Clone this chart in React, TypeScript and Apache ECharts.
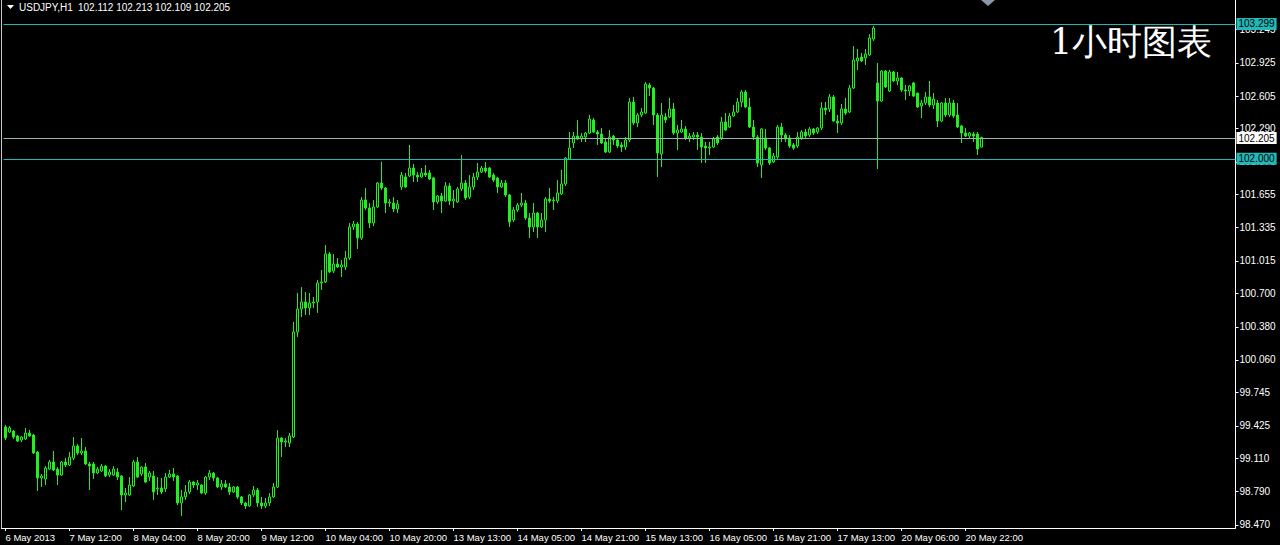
import React, { useEffect, useRef } from "react";
import * as echarts from "echarts";

// ---- data (USDJPY, H1) ----
const OPEN = [
  99.413, 99.365, 99.374, 99.327, 99.288, 99.298, 99.355, 99.336, 99.172, 98.922,
  98.912, 99.008, 99.076, 99.008, 98.950, 99.076, 99.047, 99.114, 99.230, 99.163,
  99.182, 99.057, 99.057, 98.970, 98.989, 99.037, 98.950, 98.950, 98.979, 98.941,
  98.758, 98.758, 98.845, 99.076, 98.960, 99.027, 98.931, 98.941, 98.816, 98.825,
  98.816, 98.931, 98.960, 98.941, 98.681, 98.739, 98.787, 98.883, 98.854, 98.854,
  98.777, 98.931, 98.970, 98.922, 98.835, 98.864, 98.835, 98.787, 98.835, 98.739,
  98.681, 98.652, 98.758, 98.806, 98.681, 98.652, 98.681, 98.739, 98.835, 99.307,
  99.269, 99.259, 99.317, 100.330, 100.551, 100.619, 100.561, 100.609, 100.619, 100.802,
  100.812, 101.082, 100.918, 100.985, 100.956, 100.956, 101.043, 101.342, 101.371, 101.236,
  101.602, 101.525, 101.381, 101.535, 101.766, 101.718, 101.573, 101.573, 101.516, 101.728,
  101.824, 101.834, 101.911, 101.843, 101.824, 101.863, 101.863, 101.815, 101.583, 101.641,
  101.593, 101.737, 101.593, 101.583, 101.709, 101.766, 101.631, 101.728, 101.824, 101.872,
  101.911, 101.911, 101.843, 101.815, 101.728, 101.766, 101.651, 101.410, 101.506, 101.554,
  101.573, 101.429, 101.342, 101.477, 101.342, 101.410, 101.612, 101.593, 101.593, 101.660,
  101.757, 101.998, 102.152, 102.219, 102.191, 102.210, 102.248, 102.374, 102.258, 102.239,
  102.162, 102.065, 102.219, 102.181, 102.133, 102.113, 102.181, 102.547, 102.345, 102.422,
  102.441, 102.711, 102.682, 102.422, 102.046, 102.403, 102.403, 102.480, 102.248, 102.258,
  102.287, 102.200, 102.210, 102.229, 102.210, 102.123, 102.104, 102.113, 102.210, 102.200,
  102.355, 102.306, 102.412, 102.451, 102.547, 102.644, 102.499, 102.306, 102.210, 101.940,
  102.200, 102.104, 101.969, 102.017, 102.306, 102.229, 102.200, 102.133, 102.123, 102.200,
  102.258, 102.229, 102.287, 102.258, 102.297, 102.489, 102.480, 102.596, 102.364, 102.345,
  102.480, 102.451, 102.682, 102.943, 102.981, 102.972, 103.001, 103.155, 102.731, 102.557,
  102.846, 102.653, 102.837, 102.750, 102.779, 102.663, 102.653, 102.731, 102.634, 102.509,
  102.538, 102.596, 102.518, 102.538, 102.364, 102.538, 102.422, 102.538, 102.422, 102.316,
  102.248, 102.219, 102.239, 102.239, 102.112,
];
const HIGH = [
  99.433, 99.423, 99.384, 99.336, 99.327, 99.404, 99.384, 99.346, 99.182, 98.960,
  99.037, 99.095, 99.182, 99.027, 99.085, 99.114, 99.172, 99.317, 99.250, 99.307,
  99.221, 99.076, 99.076, 99.027, 99.057, 99.047, 99.008, 99.037, 99.018, 98.950,
  98.825, 98.931, 99.095, 99.124, 99.037, 99.066, 98.989, 98.989, 98.931, 98.922,
  98.970, 98.999, 99.018, 98.950, 98.806, 98.854, 98.902, 98.893, 98.902, 98.864,
  98.941, 98.999, 98.979, 98.931, 98.902, 98.902, 98.873, 98.845, 98.845, 98.748,
  98.690, 98.767, 98.845, 98.825, 98.739, 98.729, 98.777, 98.873, 99.384, 99.317,
  99.307, 99.355, 100.426, 100.706, 100.763, 100.715, 100.706, 100.667, 100.831, 100.927,
  101.168, 101.101, 101.082, 101.043, 101.024, 101.111, 101.381, 101.400, 101.390, 101.631,
  101.718, 101.573, 101.602, 101.776, 101.969, 101.728, 101.612, 101.631, 101.602, 101.872,
  101.863, 102.133, 101.950, 101.872, 101.911, 101.940, 101.892, 101.824, 101.651, 101.670,
  101.776, 101.766, 101.699, 101.728, 102.036, 101.795, 101.843, 101.863, 101.959, 101.930,
  101.969, 101.921, 101.863, 101.824, 101.795, 101.795, 101.660, 101.535, 101.573, 101.670,
  101.602, 101.477, 101.573, 101.487, 101.477, 101.631, 101.718, 101.631, 101.795, 101.892,
  102.017, 102.258, 102.258, 102.374, 102.248, 102.258, 102.422, 102.393, 102.277, 102.297,
  102.200, 102.277, 102.229, 102.200, 102.162, 102.210, 102.586, 102.596, 102.441, 102.489,
  102.740, 102.731, 102.692, 102.441, 102.538, 102.441, 102.586, 102.538, 102.326, 102.374,
  102.316, 102.248, 102.258, 102.258, 102.248, 102.162, 102.162, 102.210, 102.229, 102.403,
  102.441, 102.441, 102.518, 102.586, 102.663, 102.663, 102.586, 102.374, 102.229, 102.297,
  102.287, 102.113, 102.056, 102.326, 102.345, 102.248, 102.229, 102.152, 102.258, 102.277,
  102.287, 102.306, 102.297, 102.306, 102.547, 102.547, 102.625, 102.615, 102.422, 102.528,
  102.586, 102.711, 103.087, 103.058, 103.020, 103.058, 103.203, 103.280, 102.924, 102.856,
  102.856, 102.856, 102.846, 102.837, 102.788, 102.711, 102.711, 102.740, 102.634, 102.567,
  102.644, 102.750, 102.634, 102.567, 102.547, 102.586, 102.586, 102.567, 102.538, 102.326,
  102.297, 102.258, 102.258, 102.258, 102.213,
];
const LOW = [
  99.288, 99.355, 99.298, 99.269, 99.269, 99.288, 99.317, 99.153, 98.796, 98.835,
  98.854, 98.999, 98.989, 98.854, 98.941, 99.027, 99.037, 99.095, 99.143, 99.143,
  99.047, 98.806, 98.912, 98.960, 98.979, 98.931, 98.931, 98.941, 98.902, 98.613,
  98.690, 98.748, 98.835, 98.922, 98.941, 98.873, 98.893, 98.710, 98.758, 98.767,
  98.787, 98.922, 98.893, 98.661, 98.555, 98.710, 98.767, 98.825, 98.806, 98.767,
  98.758, 98.902, 98.893, 98.825, 98.806, 98.825, 98.758, 98.777, 98.719, 98.661,
  98.623, 98.642, 98.739, 98.642, 98.623, 98.632, 98.652, 98.729, 98.825, 99.124,
  99.221, 99.221, 99.307, 100.281, 100.474, 100.494, 100.494, 100.561, 100.513, 100.735,
  100.802, 100.898, 100.898, 100.947, 100.860, 100.927, 101.024, 101.313, 101.130, 101.217,
  101.506, 101.332, 101.352, 101.525, 101.699, 101.477, 101.535, 101.487, 101.477, 101.699,
  101.718, 101.824, 101.776, 101.776, 101.815, 101.824, 101.795, 101.506, 101.564, 101.477,
  101.583, 101.554, 101.525, 101.573, 101.689, 101.602, 101.612, 101.699, 101.795, 101.863,
  101.863, 101.815, 101.776, 101.670, 101.718, 101.631, 101.342, 101.390, 101.487, 101.535,
  101.410, 101.236, 101.294, 101.236, 101.332, 101.294, 101.573, 101.506, 101.573, 101.651,
  101.737, 101.988, 102.104, 102.181, 102.162, 102.162, 102.239, 102.248, 102.133, 102.142,
  102.056, 102.056, 102.133, 102.104, 102.065, 102.085, 102.162, 102.326, 102.306, 102.403,
  102.432, 102.605, 102.326, 101.824, 101.921, 102.345, 102.393, 102.229, 102.085, 102.248,
  102.181, 102.162, 102.181, 102.085, 101.959, 101.959, 102.036, 102.104, 102.133, 102.181,
  102.268, 102.297, 102.403, 102.441, 102.499, 102.489, 102.297, 102.181, 101.921, 101.815,
  102.085, 101.940, 101.959, 101.988, 102.162, 102.162, 102.104, 102.085, 102.104, 102.181,
  102.200, 102.210, 102.229, 102.239, 102.277, 102.422, 102.451, 102.355, 102.248, 102.326,
  102.422, 102.441, 102.673, 102.856, 102.933, 102.904, 102.991, 103.136, 101.901, 102.547,
  102.682, 102.644, 102.740, 102.711, 102.644, 102.567, 102.605, 102.596, 102.489, 102.393,
  102.518, 102.499, 102.480, 102.306, 102.355, 102.403, 102.403, 102.393, 102.297, 102.152,
  102.210, 102.191, 102.162, 102.036, 102.109,
];
const CLOSE = [
  99.307, 99.404, 99.317, 99.278, 99.317, 99.355, 99.327, 99.163, 98.922, 98.941,
  99.018, 99.076, 98.999, 98.950, 99.076, 99.047, 99.124, 99.230, 99.163, 99.182,
  99.057, 99.037, 98.970, 99.008, 99.037, 98.941, 98.979, 99.008, 98.931, 98.758,
  98.777, 98.854, 99.076, 98.931, 99.027, 98.883, 98.970, 98.787, 98.825, 98.787,
  98.931, 98.960, 98.931, 98.681, 98.739, 98.787, 98.883, 98.854, 98.873, 98.777,
  98.931, 98.970, 98.922, 98.835, 98.864, 98.835, 98.787, 98.835, 98.739, 98.681,
  98.652, 98.758, 98.806, 98.681, 98.652, 98.681, 98.739, 98.835, 99.307, 99.269,
  99.278, 99.327, 100.330, 100.551, 100.619, 100.561, 100.609, 100.619, 100.802, 100.812,
  101.082, 100.908, 100.985, 100.956, 100.976, 101.043, 101.342, 101.371, 101.236, 101.602,
  101.525, 101.381, 101.535, 101.766, 101.718, 101.573, 101.583, 101.516, 101.564, 101.843,
  101.728, 101.911, 101.843, 101.824, 101.863, 101.843, 101.805, 101.583, 101.641, 101.593,
  101.737, 101.593, 101.612, 101.709, 101.766, 101.622, 101.728, 101.824, 101.872, 101.911,
  101.882, 101.824, 101.795, 101.728, 101.766, 101.651, 101.390, 101.506, 101.554, 101.573,
  101.429, 101.342, 101.477, 101.342, 101.410, 101.612, 101.593, 101.602, 101.670, 101.757,
  102.007, 102.104, 102.219, 102.191, 102.219, 102.248, 102.383, 102.258, 102.239, 102.152,
  102.065, 102.210, 102.181, 102.123, 102.113, 102.181, 102.547, 102.345, 102.422, 102.451,
  102.721, 102.682, 102.422, 102.056, 102.422, 102.374, 102.480, 102.248, 102.277, 102.287,
  102.200, 102.219, 102.229, 102.210, 102.113, 102.104, 102.113, 102.191, 102.152, 102.355,
  102.277, 102.412, 102.451, 102.547, 102.644, 102.499, 102.306, 102.210, 101.959, 102.287,
  102.104, 101.959, 102.027, 102.306, 102.229, 102.191, 102.123, 102.104, 102.210, 102.258,
  102.219, 102.287, 102.248, 102.297, 102.489, 102.470, 102.596, 102.364, 102.345, 102.480,
  102.441, 102.682, 102.952, 102.972, 102.943, 103.010, 103.165, 103.261, 102.557, 102.846,
  102.692, 102.837, 102.750, 102.779, 102.663, 102.653, 102.702, 102.605, 102.499, 102.538,
  102.596, 102.518, 102.576, 102.364, 102.538, 102.422, 102.538, 102.412, 102.306, 102.248,
  102.219, 102.248, 102.219, 102.094, 102.205,
];

const TIME_LABELS = [
  "6 May 2013", "7 May 12:00", "8 May 04:00", "8 May 20:00", "9 May 12:00",
  "10 May 04:00", "10 May 20:00", "13 May 13:00", "14 May 05:00", "14 May 21:00",
  "15 May 13:00", "16 May 05:00", "16 May 21:00", "17 May 13:00", "20 May 06:00",
  "20 May 22:00",
];
const BARS_PER_LABEL = 16;
const SLOT_COUNT = 308; // bars that fit in the window (incl. empty right margin)

const PRICE_TICKS = [
  98.47, 98.79, 99.11, 99.425, 99.745, 100.06, 100.38, 100.7, 101.015, 101.335,
  101.655, 101.97, 102.29, 102.605, 102.925, 103.245,
];
const PRICE_MIN = 98.4395;
const PRICE_MAX = 103.531;
const LEVELS = [103.299, 102.0];
const LAST_PRICE = 102.205;
const SYMBOL = "USDJPY,H1";
const LAST_QUOTE = "102.112 102.213 102.109 102.205";
const TITLE = "1小时图表";

const LIME = "#22ee22";
const CYAN = "#20b8b8";
const FONT = "'Liberation Sans', Arial, sans-serif";

export default function App() {
  const ref = useRef<HTMLDivElement>(null);

  useEffect(() => {
    if (!ref.current) return;
    const chart = echarts.init(ref.current, undefined, { renderer: "svg" });

    const categories = Array.from({ length: SLOT_COUNT }, (_, i) => String(i));
    const candles = OPEN.map((o, i) => [o, CLOSE[i], LOW[i], HIGH[i]]);
    const lastLabelIdx = (TIME_LABELS.length - 1) * BARS_PER_LABEL;
    const showAt = (i: number) => i % BARS_PER_LABEL === 0 && i <= lastLabelIdx;

    const boxLabel = (v: number, bg: string) => ({
      show: true,
      position: "end",
      distance: 1,
      formatter: () => v.toFixed(3),
      color: "#000",
      backgroundColor: bg,
      padding: [1, 2, 0, 2],
      lineHeight: 11,
      fontSize: 10,
      fontFamily: FONT,
    });

    chart.setOption({
      animation: false,
      backgroundColor: "#000",
      grid: { left: 3.5, top: 0, width: 1232, height: 528 },
      xAxis: {
        type: "category",
        data: categories,
        boundaryGap: true,
        axisLine: { show: true, lineStyle: { color: "#ffffff", width: 1 } },
        axisTick: {
          show: true,
          length: 3,
          alignWithLabel: true,
          interval: (i: number) => showAt(i),
          lineStyle: { color: "#ffffff" },
        },
        axisLabel: {
          show: true,
          interval: (i: number) => showAt(i),
          formatter: (_v: string, i: number) => TIME_LABELS[i / BARS_PER_LABEL] ?? "",
          color: "#ffffff",
          fontSize: 9.5,
          fontFamily: FONT,
          align: "left",
          margin: 4,
        },
        splitLine: { show: false },
      },
      yAxis: {
        type: "value",
        position: "right",
        min: PRICE_MIN,
        max: PRICE_MAX,
        axisLine: { show: true, lineStyle: { color: "#ffffff", width: 1 } },
        axisTick: {
          show: true,
          length: 3,
          customValues: PRICE_TICKS,
          lineStyle: { color: "#ffffff" },
        },
        axisLabel: {
          show: true,
          customValues: PRICE_TICKS,
          formatter: (v: number) => v.toFixed(3),
          color: "#ffffff",
          fontSize: 10,
          fontFamily: FONT,
          margin: 4,
        },
        splitLine: { show: false },
      },
      series: [
        {
          type: "candlestick",
          data: candles,
          barWidth: 2,
          itemStyle: {
            color: "#000000",
            color0: LIME,
            borderColor: LIME,
            borderColor0: LIME,
            borderColorDoji: LIME,
            borderWidth: 1,
          },
          markLine: {
            silent: true,
            symbol: "none",
            animation: false,
            data: [
              ...LEVELS.map((v) => ({
                yAxis: v,
                lineStyle: { color: CYAN, width: 1, type: "solid" },
                label: boxLabel(v, CYAN),
              })),
              {
                yAxis: LAST_PRICE,
                lineStyle: { color: "#9fb4b4", width: 1, type: "solid" },
                label: boxLabel(LAST_PRICE, "#ffffff"),
              },
            ],
          },
        },
      ],
      graphic: [
        {
          type: "line",
          shape: { x1: 1.5, y1: 0, x2: 1.5, y2: 528 },
          style: { stroke: "#c8c8c8", lineWidth: 1 },
        },
        {
          type: "line",
          shape: { x1: 1, y1: 528.5, x2: 4, y2: 528.5 },
          style: { stroke: "#ffffff", lineWidth: 1 },
        },
        {
          type: "polygon",
          shape: { points: [[7, 5], [14, 5], [10.5, 9]] },
          style: { fill: "#ffffff" },
        },
        {
          type: "text",
          x: 19,
          y: 7,
          style: {
            text: SYMBOL,
            fill: "#ffffff",
            fontSize: 10,
            fontFamily: FONT,
            verticalAlign: "middle",
          },
        },
        {
          type: "text",
          x: 78,
          y: 7,
          style: {
            text: LAST_QUOTE,
            fill: "#ffffff",
            fontSize: 10,
            fontFamily: FONT,
            verticalAlign: "middle",
          },
        },
        {
          type: "polygon",
          shape: { points: [[981, 0], [995, 0], [988, 6]] },
          style: { fill: "#8c96aa" },
        },
        {
          type: "text",
          x: 1050,
          y: 42,
          style: {
            text: TITLE,
            fill: "#ffffff",
            fontSize: 35,
            fontFamily: "'DejaVu Serif', serif",
            verticalAlign: "middle",
          },
        },
      ],
    });

    return () => chart.dispose();
  }, []);

  return (
    <div
      ref={ref}
      style={{ position: "fixed", left: 0, top: 0, width: 1280, height: 545 }}
    />
  );
}
